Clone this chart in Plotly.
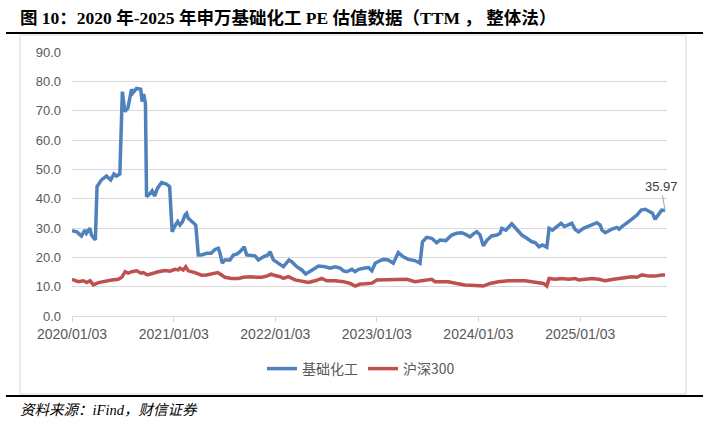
import plotly.graph_objects as go

# ---------------- data ----------------
CHEM_DATES = [
    "2020-01-03","2020-01-20","2020-02-06","2020-02-18","2020-02-24","2020-03-07","2020-03-13","2020-03-27",
    "2020-04-02","2020-04-18","2020-05-06","2020-05-21","2020-06-02","2020-06-11","2020-06-23","2020-07-02",
    "2020-07-11","2020-07-22","2020-08-04","2020-08-09","2020-08-22","2020-09-06","2020-09-11","2020-09-17",
    "2020-09-23","2020-09-27","2020-10-08","2020-10-17","2020-10-26","2020-11-05","2020-11-20","2020-12-07",
    "2020-12-19","2020-12-28","2021-01-07","2021-01-17","2021-01-25","2021-02-03","2021-02-12","2021-02-18",
    "2021-02-24","2021-03-08","2021-03-23","2021-04-01","2021-04-13","2021-05-01","2021-05-17","2021-05-31",
    "2021-06-12","2021-06-18","2021-06-26","2021-07-06","2021-07-24","2021-08-05","2021-08-17","2021-08-29",
    "2021-09-13","2021-09-22","2021-10-08","2021-10-22","2021-11-03","2021-11-21","2021-12-07","2021-12-15",
    "2021-12-27","2022-01-14","2022-02-01","2022-02-21","2022-03-03","2022-03-21","2022-04-08","2022-04-22",
    "2022-05-08","2022-05-26","2022-06-07","2022-07-01","2022-07-19","2022-08-06","2022-08-24","2022-09-05",
    "2022-09-17","2022-10-05","2022-10-17","2022-10-29","2022-11-16","2022-12-04","2022-12-16","2022-12-28",
    "2023-01-15","2023-01-27","2023-02-13","2023-03-03","2023-03-21","2023-04-08","2023-04-26","2023-05-20",
    "2023-06-07","2023-06-16","2023-07-01","2023-07-19","2023-08-06","2023-08-18","2023-09-08","2023-09-29",
    "2023-10-17","2023-11-04","2023-11-16","2023-12-04","2023-12-16","2023-12-28","2024-01-09","2024-01-21",
    "2024-02-03","2024-02-20","2024-03-09","2024-03-21","2024-03-27","2024-04-11","2024-05-02","2024-05-20",
    "2024-06-07","2024-06-25","2024-07-13","2024-07-25","2024-08-08","2024-08-20","2024-09-05","2024-09-13",
    "2024-09-25","2024-10-11","2024-10-26","2024-11-07","2024-11-22","2024-12-04","2024-12-16","2024-12-28",
    "2025-01-15","2025-02-02","2025-02-20","2025-03-04","2025-03-16","2025-03-22","2025-04-03","2025-04-15",
    "2025-04-27","2025-05-15","2025-05-23","2025-06-02","2025-06-20","2025-07-08","2025-07-26","2025-08-10",
    "2025-08-25","2025-09-12","2025-09-20","2025-09-29","2025-10-11","2025-10-23","2025-11-04",
]
CHEM_PE = [
    29.1, 28.7, 27.3, 29.3, 28.2, 29.9, 27.6, 25.9,
    44.1, 46.4, 47.7, 46.4, 48.4, 47.7, 48.4, 76.5,
    69.7, 70.9, 77.3, 76.1, 77.6, 77.3, 73.1, 75.7,
    72.5, 40.7, 41.6, 42.7, 40.9, 43.5, 45.5, 45.0,
    44.1, 28.7, 30.7, 32.2, 31.0, 32.1, 34.4, 35.0,
    33.3, 32.2, 31.0, 20.8, 20.8, 21.4, 21.4, 22.7,
    23.1, 21.4, 18.0, 19.1, 19.1, 20.8, 21.1, 21.9,
    23.6, 20.8, 20.5, 20.5, 19.1, 20.2, 20.8, 21.9,
    19.1, 18.0, 16.8, 19.1, 18.5, 16.8, 15.7, 14.3,
    15.4, 16.3, 17.0, 16.8, 16.3, 16.8, 16.3, 15.4,
    15.1, 15.9, 15.1, 15.9, 16.3, 16.5, 15.4, 18.0,
    18.9, 19.3, 19.1, 18.0, 21.6, 20.2, 19.3, 18.9,
    18.0, 25.3, 26.8, 26.5, 25.0, 25.9, 25.7, 27.6,
    28.2, 28.4, 27.9, 27.0, 28.0, 28.7, 27.6, 23.9,
    25.9, 27.3, 27.6, 28.2, 29.9, 29.3, 31.4, 29.6,
    27.6, 26.5, 25.3, 25.0, 23.6, 24.2, 23.4, 29.9,
    29.3, 30.5, 31.6, 30.5, 31.2, 31.6, 29.5, 28.7,
    29.9, 30.5, 31.4, 31.8, 31.0, 29.3, 28.4, 29.1,
    29.6, 30.2, 29.6, 30.5, 31.6, 33.0, 34.4, 36.1,
    36.4, 35.6, 35.0, 33.0, 34.4, 36.1, 35.97,
]

HS300_DATES = [
    "2020-01-03","2020-01-26","2020-02-13","2020-02-25","2020-03-08","2020-03-20","2020-04-07","2020-05-01",
    "2020-05-25","2020-06-17","2020-06-30","2020-07-12","2020-07-23","2020-08-05","2020-08-23","2020-09-07",
    "2020-09-15","2020-10-01","2020-10-18","2020-11-08","2020-12-02","2020-12-20","2021-01-07","2021-01-19",
    "2021-01-25","2021-02-06","2021-02-15","2021-02-24","2021-03-20","2021-04-13","2021-05-01","2021-05-25",
    "2021-06-10","2021-06-18","2021-07-06","2021-07-30","2021-08-23","2021-09-10","2021-10-04","2021-10-28",
    "2021-11-15","2021-12-03","2021-12-19","2022-01-02","2022-01-20","2022-02-01","2022-02-19","2022-03-15",
    "2022-04-08","2022-05-02","2022-05-26","2022-06-19","2022-07-07","2022-08-06","2022-09-05","2022-09-29",
    "2022-10-17","2022-11-04","2022-11-22","2022-12-16","2023-01-03","2023-01-27","2023-02-20","2023-03-21",
    "2023-04-21","2023-05-20","2023-06-14","2023-07-01","2023-07-19","2023-07-31","2023-09-17","2023-10-17",
    "2023-11-16","2023-12-22","2024-01-21","2024-02-14","2024-03-15","2024-04-20","2024-05-26","2024-06-19",
    "2024-07-13","2024-08-06","2024-08-24","2024-09-05","2024-09-13","2024-10-05","2024-10-29","2024-11-22",
    "2024-12-16","2024-12-28","2025-01-21","2025-02-14","2025-03-10","2025-04-03","2025-05-03","2025-05-27",
    "2025-06-20","2025-07-08","2025-07-26","2025-08-13","2025-09-06","2025-09-29","2025-10-23","2025-11-04",
]
HS300_PE = [
    12.5, 11.7, 12.0, 11.4, 12.0, 10.6, 11.4, 12.0,
    12.3, 12.5, 13.2, 15.1, 14.6, 15.1, 15.4, 14.6,
    14.8, 14.0, 14.6, 15.1, 15.5, 15.3, 15.9, 15.7,
    16.3, 15.7, 16.8, 15.4, 14.8, 13.9, 14.0, 14.6,
    14.8, 14.3, 13.2, 12.8, 12.8, 13.2, 13.4, 13.2,
    13.2, 13.6, 14.3, 13.8, 13.4, 12.8, 13.4, 12.3,
    12.0, 11.4, 12.0, 12.8, 12.0, 12.0, 11.7, 11.1,
    10.2, 10.9, 11.0, 11.2, 12.3, 12.3, 12.5, 12.3,
    12.5, 11.7, 12.0, 12.0, 12.5, 11.7, 11.7, 11.1,
    10.6, 10.4, 10.2, 11.1, 11.7, 12.0, 12.0, 12.0,
    11.7, 11.4, 11.1, 10.2, 12.8, 12.5, 12.8, 12.5,
    12.8, 12.3, 12.5, 12.8, 12.5, 12.0, 12.5, 12.8,
    13.2, 13.4, 13.2, 14.0, 13.6, 13.6, 14.0, 14.0,
]

SERIES_NAMES = ["基础化工", "沪深300"]
XTICK_DATES = ["2020-01-03", "2021-01-03", "2022-01-03", "2023-01-03", "2024-01-03", "2025-01-03"]
XTICK_LABELS = ["2020/01/03", "2021/01/03", "2022/01/03", "2023/01/03", "2024/01/03", "2025/01/03"]
YTICKS = [0, 10, 20, 30, 40, 50, 60, 70, 80, 90]
TITLE = "图 10：2020 年-2025 年申万基础化工 PE 估值数据（TTM ， 整体法）"
SOURCE = "资料来源：iFind，财信证券"
LAST_LABEL = "35.97"

# ---------------- figure ----------------
W, H = 710, 425
L, R, T, B = 72, 43, 52, 109
pw, ph = W - L - R, H - T - B


def px_x(p):
    return (p - L) / pw


def px_y(p):
    return (H - B - p) / ph


BLUE = "#4F81BD"
RED = "#C0504D"
GRID = "#D9D9D9"
TXT = "#595959"
CJK = "Noto Sans CJK SC"

fig = go.Figure()
fig.add_trace(go.Scatter(x=CHEM_DATES, y=CHEM_PE, mode="lines", name=SERIES_NAMES[0],
                         line=dict(color=BLUE, width=3.5)))
fig.add_trace(go.Scatter(x=HS300_DATES, y=HS300_PE, mode="lines", name=SERIES_NAMES[1],
                         line=dict(color=RED, width=3.5)))

fig.update_layout(
    width=W, height=H,
    margin=dict(l=L, r=R, t=T, b=B, autoexpand=False),
    paper_bgcolor="white", plot_bgcolor="white",
    font=dict(family="Liberation Sans, " + CJK, color=TXT, size=13),
    showlegend=True,
    legend=dict(orientation="h", x=px_x(361), xanchor="center", y=px_y(369), yanchor="middle",
                font=dict(family=CJK, size=14, color=TXT), bgcolor="rgba(0,0,0,0)",
                itemwidth=30, traceorder="normal"),
    xaxis=dict(type="date", range=["2020-01-03", "2025-11-11"],
               tickvals=XTICK_DATES, ticktext=XTICK_LABELS,
               showgrid=False, showline=True, linecolor=GRID, linewidth=1,
               ticks="outside", ticklen=5, tickcolor=GRID,
               tickfont=dict(size=14, color=TXT), zeroline=False),
    yaxis=dict(range=[0, 90], tickvals=YTICKS, tickformat=".1f",
               showgrid=True, gridcolor=GRID, gridwidth=1, zeroline=False,
               showline=False, ticks="", ticklabelstandoff=10,
               tickfont=dict(size=13, color=TXT)),
)

shapes = [
    dict(type="rect", xref="paper", yref="paper", x0=px_x(20), x1=px_x(686), y0=px_y(394), y1=px_y(35),
         line=dict(color=GRID, width=1), fillcolor="rgba(0,0,0,0)", layer="below"),
    dict(type="line", xref="paper", yref="paper", x0=px_x(6), x1=px_x(703), y0=px_y(33), y1=px_y(33),
         line=dict(color="black", width=2)),
    dict(type="line", xref="paper", yref="paper", x0=px_x(6), x1=px_x(703), y0=px_y(396), y1=px_y(396),
         line=dict(color="black", width=2)),
]
fig.update_layout(shapes=shapes)

fig.add_annotation(xref="paper", yref="paper", x=px_x(18), y=px_y(18), xanchor="left", yanchor="middle",
                   text="<b>" + TITLE + "</b>", showarrow=False,
                   font=dict(family="Liberation Serif, " + CJK, size=17.5, color="black"))
fig.add_annotation(xref="paper", yref="paper", x=px_x(18), y=px_y(410), xanchor="left", yanchor="middle",
                   text="<i>" + SOURCE + "</i>", showarrow=False,
                   font=dict(family="Liberation Serif, " + CJK, size=14.5, color="black"))
fig.add_annotation(x=CHEM_DATES[-1], y=CHEM_PE[-1], text=LAST_LABEL, showarrow=True,
                   arrowhead=0, arrowwidth=1, arrowcolor="#A6A6A6", ax=-4, ay=-24,
                   font=dict(size=13, color="#404040"))

fig.write_html("out.html", config={"displayModeBar": False},
               post_script="document.body.style.margin='0';document.body.style.overflow='hidden';")
